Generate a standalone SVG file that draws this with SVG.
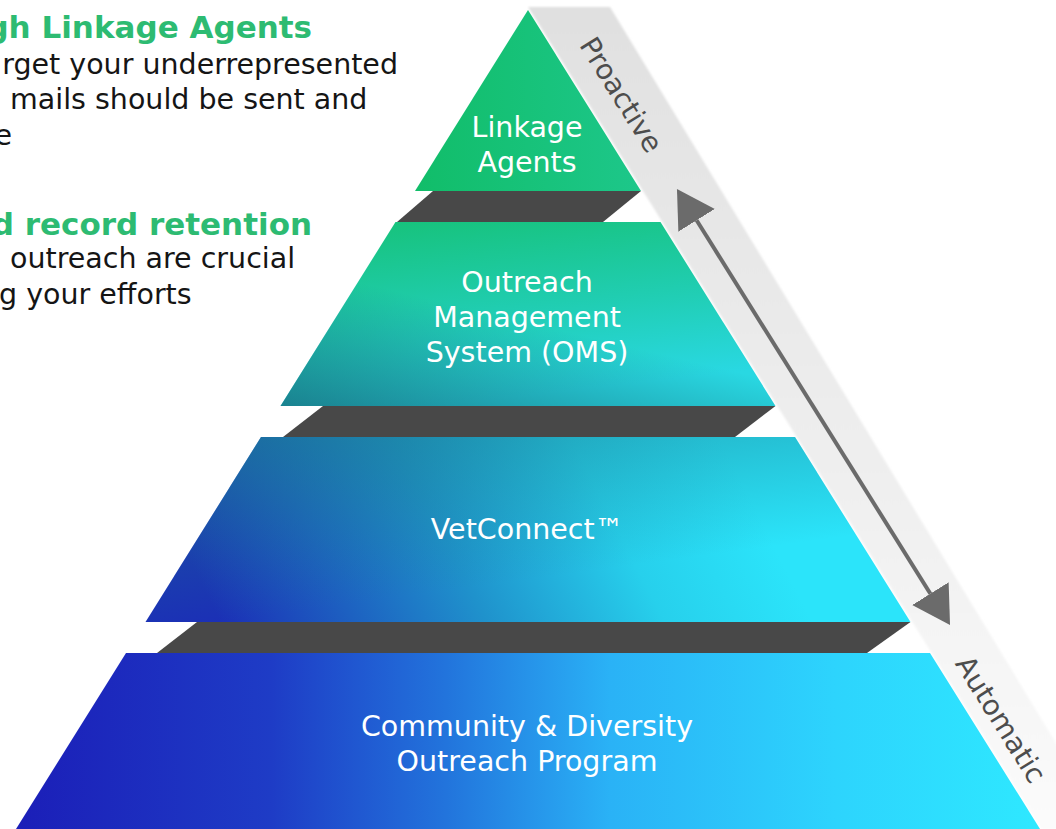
<svg xmlns="http://www.w3.org/2000/svg" width="1056" height="829" viewBox="0 0 1056 829">
<style>
.lbl{font-family:"DejaVu Sans",sans-serif;font-size:28.5px;fill:#ffffff;text-anchor:middle}
.body{font-family:"DejaVu Sans",sans-serif;font-size:28.5px;fill:#151515}
.ttl{font-family:"DejaVu Sans",sans-serif;font-weight:bold;font-size:31px;fill:#2dbb72}
.side{font-family:"DejaVu Sans",sans-serif;font-size:28px;fill:#4d4d4d;text-anchor:middle}
.band{fill:#484848}
</style>
<defs>
<linearGradient id="gStrip" x1="0" y1="0" x2="0" y2="1">
<stop offset="0" stop-color="#e0e0e0"/>
<stop offset="0.5" stop-color="#ededed"/>
<stop offset="1" stop-color="#fbfbfb"/>
</linearGradient>
<filter id="soft" x="-5%" y="-5%" width="110%" height="110%"><feGaussianBlur stdDeviation="1.2"/></filter>
<linearGradient id="g1" x1="0" y1="0" x2="1" y2="0">
<stop offset="0" stop-color="#11bd69"/>
<stop offset="1" stop-color="#1dc78a"/>
</linearGradient>
<linearGradient id="g2" x1="0" y1="0" x2="0.3" y2="1">
<stop offset="0" stop-color="#16c176"/>
<stop offset="0.55" stop-color="#20cdb0"/>
<stop offset="1" stop-color="#29d8e2"/>
</linearGradient>
<linearGradient id="g2o" x1="0" y1="1" x2="0.35" y2="0.45">
<stop offset="0" stop-color="#145e70" stop-opacity="0.7"/>
<stop offset="1" stop-color="#145e70" stop-opacity="0"/>
</linearGradient>
<linearGradient id="g3" gradientUnits="userSpaceOnUse" x1="230" y1="640" x2="700" y2="400">
<stop offset="0" stop-color="#1b30b6"/>
<stop offset="0.45" stop-color="#1f92cc"/>
<stop offset="0.75" stop-color="#27d0ec"/>
<stop offset="1" stop-color="#2be4fa"/>
</linearGradient>
<linearGradient id="g3o" x1="0" y1="0" x2="0.45" y2="0.8">
<stop offset="0" stop-color="#1a7a8a" stop-opacity="0.6"/>
<stop offset="1" stop-color="#1a7a8a" stop-opacity="0"/>
</linearGradient>
<linearGradient id="g4" x1="0" y1="0" x2="1" y2="0">
<stop offset="0" stop-color="#1b1eb8"/>
<stop offset="0.25" stop-color="#1e3cc6"/>
<stop offset="0.42" stop-color="#2274dc"/>
<stop offset="0.58" stop-color="#2ab2f6"/>
<stop offset="0.8" stop-color="#2dd4fd"/>
<stop offset="1" stop-color="#2ee8ff"/>
</linearGradient>
<marker id="ah" viewBox="0 -21.5 37 43" refX="0" refY="0" markerWidth="37" markerHeight="43" markerUnits="userSpaceOnUse" orient="auto-start-reverse">
<path d="M0,-21.5 L37,0 L0,21.5 Z" fill="#6b6b6b"/>
</marker>
</defs>

<g id="strip">
<polygon points="528,7 610,7 1108,829 1041.75,829" fill="url(#gStrip)" filter="url(#soft)"/>
<text class="side" transform="translate(613,100) rotate(58)">Proactive</text>
<text class="side" transform="translate(992.5,724.3) rotate(58)">Automatic</text>
</g>

<g id="left-text">
<text class="ttl" x="312" y="38" text-anchor="end">gh Linkage Agents</text>
<text class="body" x="398" y="74" text-anchor="end">rget your underrepresented</text>
<text class="body" x="10" y="109">mails should be sent and</text>
<text class="body" x="12" y="145" text-anchor="end">e</text>
<text class="ttl" x="312" y="235" text-anchor="end">d record retention</text>
<text class="body" x="10" y="268">outreach are crucial</text>
<text class="body" x="-1" y="304">g your efforts</text>
</g>

<g id="bands">
<polygon class="band" points="433,191 641,191 603,222 397,222"/>
<polygon class="band" points="323,406 775.5,406 735,437 283,437"/>
<polygon class="band" points="197,622 910.5,622 867,653 157,653"/>
</g>

<g id="node-linkage">
<polygon points="528,10 641,191 415,191" fill="url(#g1)"/>
<text class="lbl" x="527" y="136.7">Linkage</text>
<text class="lbl" x="527" y="171.7">Agents</text>
</g>

<g id="node-oms">
<polygon points="395.5,222 660.5,222 775.5,406 280.5,406" fill="url(#g2)"/>
<polygon points="395.5,222 660.5,222 775.5,406 280.5,406" fill="url(#g2o)"/>
<text class="lbl" x="527" y="291.7">Outreach</text>
<text class="lbl" x="527" y="326.7">Management</text>
<text class="lbl" x="527" y="361.7">System (OMS)</text>
</g>

<g id="node-vetconnect">
<polygon points="261,437 795,437 910.5,622 145.5,622" fill="url(#g3)"/>
<polygon points="261,437 795,437 910.5,622 145.5,622" fill="url(#g3o)"/>
<text class="lbl" x="527" y="539.3">VetConnect™</text>
</g>

<g id="node-cdop">
<polygon points="126,653 930,653 1040,829 16,829" fill="url(#g4)"/>
<text class="lbl" x="527" y="736">Community &amp; Diversity</text>
<text class="lbl" x="527" y="770.7">Outreach Program</text>
</g>

<g id="connectors">
<line x1="696.6" y1="220.3" x2="930.4" y2="593.7" stroke="#6b6b6b" stroke-width="4" marker-start="url(#ah)" marker-end="url(#ah)"/>
</g>
</svg>
